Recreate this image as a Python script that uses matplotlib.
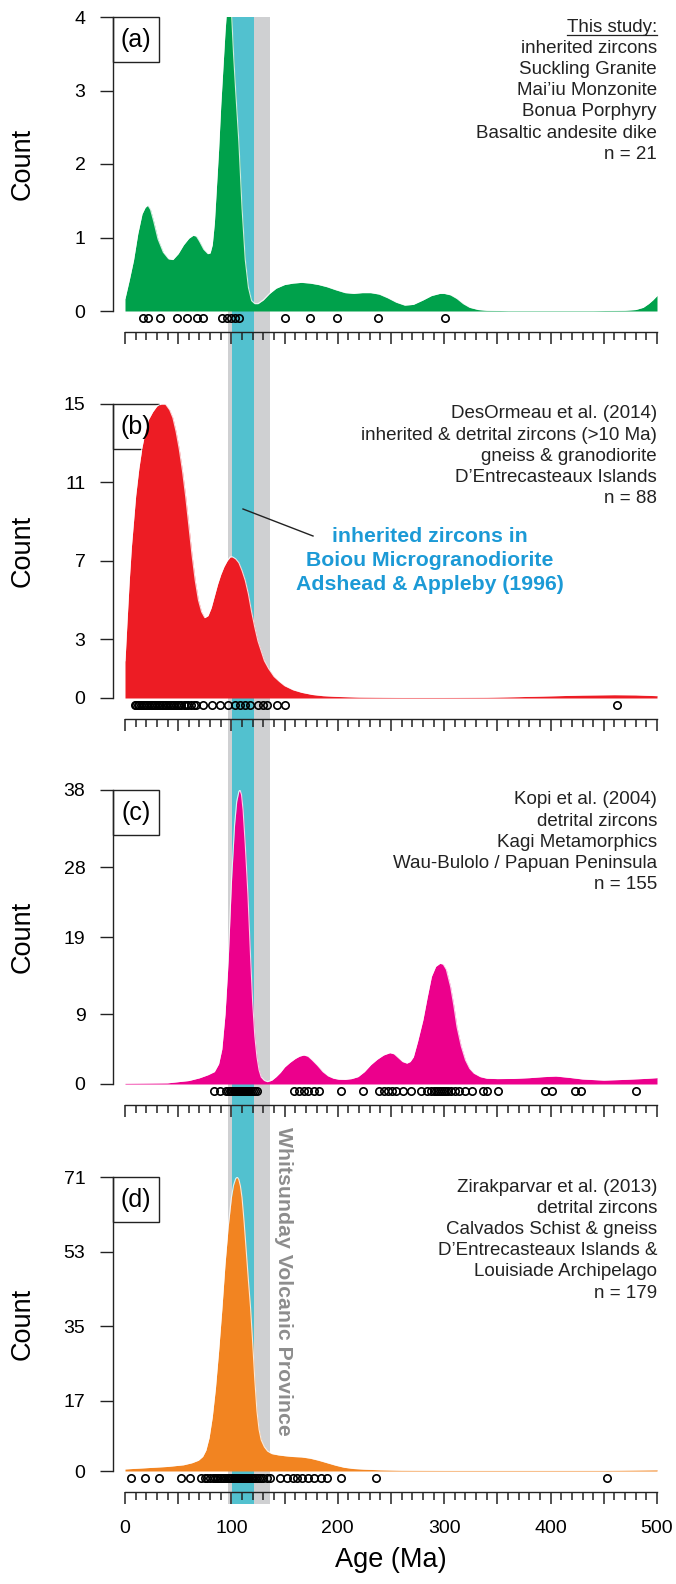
import matplotlib.pyplot as plt
import matplotlib.patches as mpatches
import matplotlib.lines as mlines
import matplotlib.transforms as mtransforms
from matplotlib.ticker import MultipleLocator
import numpy as np

plt.rcParams['font.family'] = ['Liberation Sans', 'DejaVu Sans']

W, H = 676, 1584

# age bands (Ma)
gray_band = [97, 136]
cyan_band = [101, 121]

# (a) this study
age_a = [0, 4, 8, 12, 16, 19, 21.5, 24, 27, 31, 36, 41, 45, 50, 55, 60, 64, 67, 70, 74, 78, 80, 82,
         84, 86, 88, 90, 92, 94, 96, 98, 100, 102, 104, 107, 110, 113, 116, 119, 122, 125, 130, 136,
         142, 150, 158, 166, 174, 182, 190, 198, 207, 215, 223, 231, 239, 247, 255, 263, 271, 280,
         288, 296, 300, 306, 312, 318, 324, 332, 340, 360, 400, 440, 470, 480, 487, 492, 496, 500]
count_a = [0.17, 0.42, 0.69, 1.05, 1.32, 1.41, 1.44, 1.38, 1.22, 0.98, 0.8, 0.71, 0.7, 0.78, 0.9,
           0.99, 1.03, 1.02, 0.95, 0.84, 0.78, 0.79, 0.9, 1.2, 1.7, 2.2, 2.8, 3.3, 3.8, 4.2, 4.4, 4.1,
           3.5, 3.0, 2.3, 1.4, 0.7, 0.32, 0.14, 0.1, 0.1, 0.15, 0.24, 0.31, 0.36, 0.38, 0.39, 0.38,
           0.36, 0.33, 0.29, 0.25, 0.24, 0.25, 0.25, 0.23, 0.18, 0.12, 0.08, 0.09, 0.15, 0.21, 0.24,
           0.24, 0.22, 0.17, 0.1, 0.05, 0.02, 0.01, 0.005, 0.005, 0.005, 0.01, 0.02, 0.05, 0.1, 0.15,
           0.21]
dates_a = [16.6, 21.5, 32.5, 48.8, 58.6, 67.4, 73.6, 90.9, 95.6, 99.5, 103.4, 107, 150, 174, 199,
           238, 301]

# (b) DesOrmeau et al. (2014)
age_b = [0, 2, 4, 6, 10, 13, 16, 19, 22, 26, 30, 34, 38, 42, 45, 48, 51, 54, 57, 60, 63, 66, 69,
         72, 75, 78, 81, 84, 87, 90, 93, 96, 99, 101, 104, 107, 110, 113, 116, 119, 122, 125, 128,
         131, 135, 140, 145, 150, 158, 166, 176, 186, 200, 220, 260, 300, 340, 370, 400, 430, 460,
         480, 500]
count_b = [1.9, 4.0, 6.0, 7.7, 10.3, 11.7, 12.8, 13.6, 14.2, 14.6, 14.9, 15.0, 15.0, 14.7, 14.3,
           13.6, 12.7, 11.6, 10.3, 8.8, 7.3, 6.0, 5.0, 4.4, 4.1, 4.2, 4.6, 5.2, 5.8, 6.3, 6.7, 7.0,
           7.2, 7.2, 7.1, 6.9, 6.5, 6.0, 5.3, 4.4, 3.6, 2.9, 2.4, 1.9, 1.5, 1.1, 0.85, 0.63, 0.42,
           0.29, 0.18, 0.12, 0.08, 0.05, 0.03, 0.03, 0.04, 0.07, 0.11, 0.15, 0.17, 0.16, 0.12]
dates_b = [9, 10.5, 12, 13.5, 15, 16.5, 18, 19.5, 21, 22.5, 24, 25.5, 27, 28.5, 30, 31.5, 33, 34.5,
           36, 37.5, 39, 40.5, 42, 43.5, 45, 46.5, 48, 49.5, 51, 53, 55, 57, 59.5, 62, 64.5, 67,
           73.6, 81.5, 89.3, 97.1, 103.4, 108, 112.8, 117.5, 125.3, 130, 133, 142.6, 150.4, 462]

# (c) Kopi et al. (2004)
age_c = [0, 40, 60, 70, 78, 84, 88, 91, 94, 97, 100, 103, 105, 107, 108, 109.5, 111, 113, 115.5,
         118, 120, 122, 124, 126, 128, 131, 134, 138, 142, 146, 150, 155, 160, 164, 168, 172, 176,
         181, 186, 191, 196, 201, 207, 213, 219, 225, 231, 237, 243, 249, 253, 257, 261, 265, 268,
         271, 275, 280, 284, 288, 292, 296, 299, 302, 306, 309, 312, 316, 320, 324, 328, 334, 340,
         350, 365, 380, 393, 405, 418, 430, 450, 470, 490, 500]
count_c = [0.1, 0.15, 0.45, 0.8, 1.2, 1.6, 2.6, 4.5, 9, 16, 26, 33.5, 36.5, 37.8, 38, 37.4, 35.4,
           31, 24.6, 16.5, 10.5, 6.2, 3.5, 1.8, 0.9, 0.45, 0.3, 0.5, 0.95, 1.5, 2.2, 2.8, 3.3, 3.6,
           3.75, 3.6, 3.1, 2.4, 1.6, 1.05, 0.75, 0.62, 0.6, 0.7, 0.95, 1.6, 2.5, 3.2, 3.75, 4.05,
           3.9, 3.4, 2.9, 2.7, 2.9, 3.5, 5.5, 8.3, 11.2, 13.9, 15.2, 15.6, 15.5, 14.8, 12.6, 10.2,
           7.4, 4.9, 3.1, 2.0, 1.4, 0.95, 0.75, 0.7, 0.72, 0.82, 0.95, 1.03, 0.85, 0.65, 0.5, 0.6,
           0.73, 0.82]
dates_c = [84, 89, 95, 97, 99, 100, 101, 102, 103, 104, 105, 106, 107, 108, 109, 110, 111, 112, 113,
           114, 115, 116, 117, 118, 120, 122, 124, 159, 164, 168, 172, 178, 182, 203, 224, 239, 243,
           247, 251, 255, 261, 269, 278, 284, 288, 290, 292, 294, 296, 298, 300, 302, 304, 306, 310,
           314, 320, 326, 336, 340, 351, 395, 401, 423, 429, 480]

# (d) Zirakparvar et al. (2013)
age_d = [0, 20, 40, 55, 63, 69, 73, 76, 79, 82, 85, 88, 91, 94, 97, 100, 102, 104, 105.5, 107,
         108.5, 110, 112, 114, 116, 118, 120, 122, 124, 126, 128, 131, 134, 138, 144, 150, 158, 166,
         174, 182, 190, 198, 206, 215, 225, 240, 260, 300, 350, 400, 450, 480, 500]
count_d = [0.5, 0.8, 1.1, 1.5, 2.0, 2.6, 3.5, 5.0, 8.0, 13, 20, 29, 39, 50, 59, 66, 69, 70.6, 71,
           70.4, 68.8, 66, 60, 53, 46, 39.5, 31, 22, 14.5, 10, 7.5, 5.8, 4.8, 4.2, 3.9, 3.7, 3.5,
           3.4, 3.1, 2.6, 2.0, 1.4, 0.9, 0.6, 0.45, 0.3, 0.2, 0.16, 0.16, 0.16, 0.17, 0.25, 0.3]
dates_d = [6, 19, 31.5, 52.7, 60.8, 71, 75, 77, 80, 83, 85, 86, 87.5, 89, 90.5, 92, 93.5, 95, 96.5,
           98, 99, 100, 101, 102, 103, 104, 105, 106, 107, 108, 109, 110, 111, 112, 113, 114, 115,
           116, 117, 118, 119, 120, 122, 124, 126, 128, 130, 133, 136, 146, 152, 158, 162, 166, 172,
           178, 184, 190, 203, 236, 453]

panel_labels = ['(a)', '(b)', '(c)', '(d)']
fill_colors = ['#00a14b', '#ed1c24', '#ec008c', '#f28421']
y_max = [4, 15, 38, 71]
y_ticks = [[0, 1, 2, 3, 4], [0, 3, 7, 11, 15], [0, 9, 19, 28, 38], [0, 17, 35, 53, 71]]
x_labels = ['0', '', '100', '', '200', '', '300', '', '400', '', '500']
source_texts = [
    ['This study:', 'inherited zircons', 'Suckling Granite', 'Mai’iu Monzonite', 'Bonua Porphyry',
     'Basaltic andesite dike', 'n = 21'],
    ['DesOrmeau et al. (2014)', 'inherited & detrital zircons (>10 Ma)', 'gneiss & granodiorite',
     'D’Entrecasteaux Islands', 'n = 88'],
    ['Kopi et al. (2004)', 'detrital zircons', 'Kagi Metamorphics', 'Wau-Bulolo / Papuan Peninsula',
     'n = 155'],
    ['Zirakparvar et al. (2013)', 'detrital zircons', 'Calvados Schist & gneiss',
     'D’Entrecasteaux Islands &', 'Louisiade Archipelago', 'n = 179'],
]
blue_lines = ['inherited zircons in', 'Boiou Microgranodiorite', 'Adshead & Appleby (1996)']

ages = [age_a, age_b, age_c, age_d]
counts = [count_a, count_b, count_c, count_d]
dates = [dates_a, dates_b, dates_c, dates_d]

# pixel layout (top-origin)
X0, X1 = 125, 657
panel_top = [17, 404, 790, 1177]
panel_h = 294


def px_rect(left, top, right, bottom):
    return [left / W, 1 - bottom / H, (right - left) / W, (bottom - top) / H]


def fx(x):
    return x / W


def fy(y):
    return 1 - y / H


fig = plt.figure(figsize=(W / 100, H / 100), dpi=100)
fig.patch.set_facecolor('white')

# vertical bands behind all panels
bg = fig.add_axes(px_rect(X0, 17, X1, 1504), zorder=0)
bg.set_xlim(0, 500)
bg.set_ylim(0, 1)
bg.axis('off')
bg.axvspan(gray_band[0], gray_band[1], color='#cfd0d2', lw=0)
bg.axvspan(cyan_band[0], cyan_band[1], color='#52c1cf', lw=0)

source_objs = []
for i in range(4):
    top = panel_top[i]
    ax = fig.add_axes(px_rect(X0, top, X1, top + panel_h), zorder=1)
    ax.patch.set_visible(False)
    ax.set_xlim(0, 500)
    ax.set_ylim(0, y_max[i])

    ax.fill_between(ages[i], 0, counts[i], color=fill_colors[i], lw=0, zorder=2)
    ax.plot(ages[i], counts[i], color='white', lw=0.8, alpha=0.8, zorder=3)

    trans = mtransforms.blended_transform_factory(ax.transData, ax.transAxes)
    ax.plot(dates[i], [-7 / panel_h] * len(dates[i]), 'o', mfc='none', mec='black', ms=5.3,
            mew=1.2, transform=trans, clip_on=False, zorder=4)

    ax.spines['top'].set_visible(False)
    ax.spines['right'].set_visible(False)
    ax.spines['left'].set_position(('outward', 8.6))
    ax.spines['left'].set_bounds(0, y_max[i])
    ax.spines['bottom'].set_position(('outward', 15))
    ax.spines['bottom'].set_bounds(0, 500)
    for s in ['left', 'bottom']:
        ax.spines[s].set_linewidth(1.0)
        ax.spines[s].set_color('#222222')

    ax.set_yticks(y_ticks[i])
    ax.tick_params(axis='y', length=9.4, width=1.0, pad=10.5, labelsize=14, color='#222222')
    ax.set_xticks(list(range(0, 501, 50)))
    ax.xaxis.set_minor_locator(MultipleLocator(10))
    ax.tick_params(axis='x', which='major', length=8.6, width=1.1, pad=12, labelsize=14,
                   color='#222222')
    ax.tick_params(axis='x', which='minor', length=5.6, width=1.1, color='#222222')
    if i < 3:
        ax.tick_params(axis='x', labelbottom=False)
    else:
        ax.set_xticklabels(x_labels)

    # y label
    fig.text(fx(23), fy(top + panel_h / 2), 'Count', rotation=90, ha='center', va='center',
             fontsize=19.5)

    # panel letter box
    fig.add_artist(mpatches.Rectangle((fx(113), fy(top + 45)), 45.6 / W, 45 / H, fill=False,
                                      lw=1.0, ec='#222222', transform=fig.transFigure))
    fig.text(fx(136), fy(top + 23), panel_labels[i], ha='center', va='center', fontsize=18)

    # source text, right aligned
    for k, line in enumerate(source_texts[i]):
        t = fig.text(fx(X1), fy(top + 8 + 21.2 * k), line, ha='right', va='center_baseline',
                     fontsize=13.5, color='#222222')
        source_objs.append(t)

fig.text(fx(391), fy(1560), 'Age (Ma)', ha='center', va='center', fontsize=19.5)

# blue annotation in panel (b)
for k, line in enumerate(blue_lines):
    fig.text(fx(430), fy(534 + 24 * k), line, ha='center', va='center_baseline', fontsize=15.3,
             fontweight='bold', color='#1c9ad6')
fig.add_artist(mlines.Line2D([fx(243), fx(313)], [fy(509), fy(536)], color='#222222', lw=1.0,
                             transform=fig.transFigure))

fig.text(fx(283), fy(1281), 'Whitsunday Volcanic Province', rotation=270, ha='center',
         va='center', fontsize=15.3, fontweight='bold', color='#8d8d8d')

# underline "This study:"
fig.canvas.draw()
bb = source_objs[0].get_window_extent()
fig.add_artist(mlines.Line2D([bb.x0 / W, bb.x1 / W], [(bb.y0 + 1) / H, (bb.y0 + 1) / H],
                             color='#222222', lw=0.9, transform=fig.transFigure))

fig.savefig('out.png', dpi=100)
